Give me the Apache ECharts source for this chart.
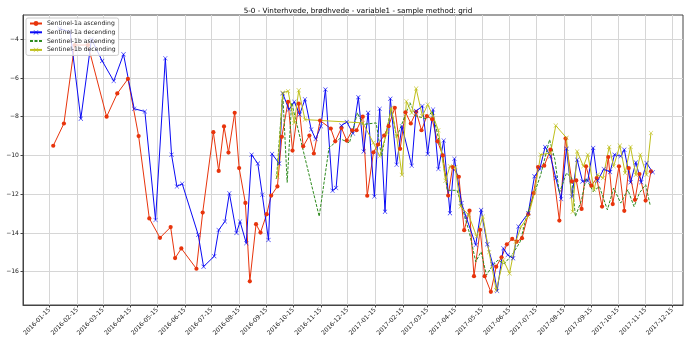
<!DOCTYPE html>
<html>
<head>
<meta charset="utf-8">
<script src="https://cdn.jsdelivr.net/npm/echarts@6/dist/echarts.min.js"></script>
<style>html,body{margin:0;padding:0;background:#fff}#c{width:690px;height:345px}</style>
</head>
<body>
<div id="c"></div>
<script>
const titleText = '5-0 - Vinterhvede, brødhvede - variable1 - sample method: grid';
const seriesNames = ['Sentinel-1a ascending', 'Sentinel-1a decending', 'Sentinel-1b ascending', 'Sentinel-1b decending'];

const xTickLabels = ['2016-01-15','2016-02-15','2016-03-15','2016-04-15','2016-05-15','2016-06-15','2016-07-15','2016-08-15','2016-09-15','2016-10-15','2016-11-15','2016-12-15','2017-01-15','2017-02-15','2017-03-15','2017-04-15','2017-05-15','2017-06-15','2017-07-15','2017-08-15','2017-09-15','2017-10-15','2017-11-15','2017-12-15'];
const yTickValues = [-16, -14, -12, -10, -8, -6, -4];

const s1aAscDates = ['2016-01-19','2016-01-31','2016-02-12','2016-02-27','2016-03-19','2016-03-31','2016-04-12','2016-04-24','2016-05-06','2016-05-18','2016-05-30','2016-06-04','2016-06-11','2016-06-28','2016-07-05','2016-07-17','2016-07-23','2016-07-29','2016-08-03','2016-08-10','2016-08-15','2016-08-22','2016-08-27','2016-09-03','2016-09-08','2016-09-15','2016-09-20','2016-09-27','2016-10-02','2016-10-09','2016-10-14','2016-10-21','2016-10-26','2016-11-02','2016-11-07','2016-11-14','2016-11-26','2016-12-01','2016-12-08','2016-12-14','2016-12-20','2016-12-25','2017-01-01','2017-01-06','2017-01-13','2017-01-18','2017-01-25','2017-01-30','2017-02-06','2017-02-12','2017-02-18','2017-02-24','2017-03-02','2017-03-08','2017-03-14','2017-03-20','2017-03-26','2017-04-01','2017-04-07','2017-04-12','2017-04-19','2017-04-25','2017-05-01','2017-05-06','2017-05-13','2017-05-18','2017-05-25','2017-05-31','2017-06-06','2017-06-12','2017-06-18','2017-06-23','2017-06-29','2017-07-06','2017-07-12','2017-07-17','2017-07-24','2017-07-31','2017-08-10','2017-08-17','2017-08-24','2017-08-29','2017-09-04','2017-09-09','2017-09-15','2017-09-21','2017-09-27','2017-10-04','2017-10-09','2017-10-16','2017-10-22','2017-10-27','2017-11-03','2017-11-08','2017-11-15','2017-11-21'];
const s1aAscValues = [-9.5,-8.35,-4.3,-4.3,-8.0,-6.8,-6.05,-9.0,-13.25,-14.25,-13.7,-15.3,-14.8,-15.85,-12.95,-8.8,-10.8,-8.5,-9.85,-7.8,-10.65,-12.45,-16.5,-13.55,-13.98,-13.03,-12.07,-11.6,-9.04,-7.23,-9.75,-7.33,-9.53,-8.97,-9.9,-8.2,-8.61,-9.27,-8.58,-9.23,-8.71,-8.7,-8.0,-12.08,-9.84,-9.44,-8.97,-8.49,-7.54,-9.66,-7.77,-8.35,-7.75,-8.7,-7.97,-8.13,-9.27,-10.0,-12.07,-10.6,-11.1,-13.86,-12.85,-16.23,-13.84,-16.23,-17.04,-15.74,-15.26,-14.59,-14.31,-14.45,-14.27,-13.03,-11.94,-10.6,-10.53,-9.7,-13.36,-9.13,-11.34,-11.29,-12.76,-10.56,-11.56,-11.17,-12.64,-10.08,-12.51,-10.56,-12.86,-10.65,-12.29,-10.96,-12.33,-10.82];

const s1aDescDates = ['2016-01-26','2016-02-07','2016-02-19','2016-03-02','2016-03-14','2016-03-27','2016-04-07','2016-04-19','2016-05-01','2016-05-13','2016-05-24','2016-05-31','2016-06-06','2016-06-12','2016-06-30','2016-07-06','2016-07-18','2016-07-23','2016-07-30','2016-08-04','2016-08-12','2016-08-16','2016-08-23','2016-08-29','2016-09-05','2016-09-10','2016-09-17','2016-09-21','2016-09-29','2016-10-03','2016-10-10','2016-10-16','2016-10-22','2016-10-28','2016-11-04','2016-11-09','2016-11-15','2016-11-20','2016-11-28','2016-12-02','2016-12-08','2016-12-14','2016-12-21','2016-12-27','2017-01-02','2017-01-07','2017-01-14','2017-01-20','2017-01-26','2017-02-01','2017-02-08','2017-02-14','2017-02-25','2017-03-02','2017-03-09','2017-03-15','2017-03-21','2017-03-27','2017-04-02','2017-04-09','2017-04-14','2017-04-22','2017-04-27','2017-05-08','2017-05-14','2017-05-21','2017-05-27','2017-06-01','2017-06-08','2017-06-13','2017-06-19','2017-06-25','2017-07-06','2017-07-13','2017-07-19','2017-07-25','2017-07-31','2017-08-06','2017-08-12','2017-08-18','2017-08-24','2017-08-30','2017-09-05','2017-09-11','2017-09-17','2017-09-22','2017-09-29','2017-10-06','2017-10-11','2017-10-18','2017-10-22','2017-10-29','2017-11-04','2017-11-10','2017-11-16','2017-11-23'];
const s1aDescValues = [-3.45,-3.62,-8.1,-4.0,-5.12,-6.16,-4.78,-7.59,-7.73,-13.33,-4.98,-9.96,-11.6,-11.46,-14.1,-15.74,-15.2,-13.85,-13.41,-11.95,-14.0,-13.41,-14.53,-9.96,-10.42,-12.03,-14.36,-9.92,-10.42,-6.8,-7.63,-7.23,-7.89,-7.1,-8.66,-9.15,-8.49,-6.59,-11.82,-11.68,-8.46,-8.27,-8.87,-6.99,-9.79,-7.8,-12.12,-7.59,-12.9,-7.07,-10.48,-8.49,-10.53,-7.71,-7.45,-9.92,-7.63,-10.7,-9.23,-12.98,-10.17,-12.46,-13.15,-14.62,-12.81,-14.59,-15.61,-17.0,-14.79,-15.14,-15.31,-13.67,-12.98,-11.08,-10.7,-9.56,-10.04,-11.17,-12.25,-9.66,-12.12,-10.22,-11.34,-11.3,-9.61,-11.3,-10.7,-10.86,-9.96,-10.04,-9.7,-11.39,-10.36,-11.39,-10.39,-10.87];

const s1bAscDates = ['2016-09-26','2016-10-03','2016-10-08','2016-10-13','2016-11-13','2016-11-24','2016-12-06','2016-12-17','2016-12-26','2017-01-01','2017-01-16','2017-01-22','2017-02-02','2017-02-08','2017-02-23','2017-03-02','2017-03-14','2017-03-20','2017-03-31','2017-04-06','2017-04-17','2017-04-23','2017-05-01','2017-05-08','2017-05-14','2017-05-20','2017-05-26','2017-06-02','2017-06-09','2017-06-19','2017-06-27','2017-07-04','2017-07-13','2017-07-20','2017-07-30','2017-08-05','2017-08-10','2017-08-18','2017-08-24','2017-08-28','2017-09-04','2017-09-09','2017-09-17','2017-09-24','2017-10-03','2017-10-10','2017-10-18','2017-10-26','2017-11-02','2017-11-08','2017-11-15','2017-11-20'];
const s1bAscValues = [-11.2,-6.76,-11.39,-7.28,-13.15,-9.61,-9.13,-9.35,-7.8,-8.4,-8.32,-10.04,-7.54,-9.09,-7.28,-7.97,-8.11,-7.71,-9.87,-11.8,-11.8,-12.72,-14.02,-15.49,-14.97,-16.18,-15.74,-15.4,-15.6,-15.05,-14.45,-13.15,-11.94,-11.0,-9.18,-10.22,-11.94,-10.91,-11.17,-13.15,-12.29,-11.17,-11.86,-11.6,-12.81,-11.68,-12.46,-11.77,-12.64,-11.94,-11.51,-12.55];

const s1bDescDates = ['2016-09-27','2016-10-03','2016-10-09','2016-10-16','2016-10-21','2016-10-28','2017-01-01','2017-01-13','2017-01-20','2017-01-28','2017-02-02','2017-02-08','2017-02-14','2017-02-19','2017-02-25','2017-03-02','2017-03-09','2017-03-15','2017-03-21','2017-03-27','2017-04-04','2017-04-09','2017-04-15','2017-04-21','2017-04-30','2017-05-09','2017-05-16','2017-05-23','2017-05-31','2017-06-08','2017-06-15','2017-06-22','2017-06-28','2017-07-06','2017-07-13','2017-07-20','2017-07-31','2017-08-06','2017-08-18','2017-08-25','2017-08-30','2017-09-06','2017-09-11','2017-09-18','2017-09-22','2017-09-28','2017-10-05','2017-10-10','2017-10-17','2017-10-23','2017-10-29','2017-11-04','2017-11-09','2017-11-16','2017-11-21'];
const s1bDescValues = [-11.1,-6.76,-6.68,-8.32,-6.64,-8.15,-8.32,-9.35,-10.04,-8.84,-7.54,-9.0,-11.0,-7.2,-7.8,-6.55,-7.97,-7.37,-7.97,-8.7,-11.3,-10.56,-10.6,-12.64,-13.07,-14.19,-13.15,-15.0,-16.95,-15.4,-16.09,-14.45,-13.67,-13.15,-11.94,-9.96,-9.87,-8.46,-9.09,-12.9,-9.79,-10.56,-9.96,-11.77,-11.0,-11.17,-9.56,-10.56,-9.49,-10.91,-9.56,-11.0,-9.96,-11.0,-8.84];

const xMin = '2015-12-16';
const xMax = '2017-12-27';
const yMin = -17.72;
const yMax = -2.75;

const toTime = s => Date.parse(s + 'T00:00:00Z');
const fmtDate = t => new Date(t).toISOString().slice(0, 10);
function pairs(d, v) { return d.map((x, i) => [toTime(x), v[i]]); }

const FONT = 'DejaVu Sans';
const crossPath = 'path://M0,0.7L0.7,0L5,4.3L9.3,0L10,0.7L5.7,5L10,9.3L9.3,10L5,5.7L0.7,10L0,9.3L4.3,5Z';
const colors = ['#e8340c', '#0a0af5', '#2e8b1e', '#bfbf1a'];

const chart = echarts.init(document.getElementById('c'), null, {renderer: 'canvas'});
chart.setOption({
  animation: false,
  backgroundColor: '#fff',
  title: {
    text: titleText,
    left: 353, top: 3, textAlign: 'center',
    textStyle: {fontFamily: FONT, fontSize: 7.2, fontWeight: 'normal', color: '#000'}
  },
  legend: {
    orient: 'vertical', left: 26, top: 18,
    itemWidth: 12, itemHeight: 6, itemGap: 1.8,
    padding: [2, 3, 2, 3],
    borderColor: '#cccccc', borderWidth: 1, borderRadius: 2,
    backgroundColor: 'rgba(255,255,255,0.8)',
    textStyle: {fontFamily: FONT, fontSize: 6.1, lineHeight: 7, color: '#222'},
    data: [
      {name: seriesNames[0]},
      {name: seriesNames[1]},
      {name: seriesNames[2], itemStyle: {opacity: 0}},
      {name: seriesNames[3]}
    ],
    z: 10
  },
  grid: {left: 23, right: 7, top: 15, bottom: 40, show: true, borderColor: '#444', borderWidth: 1},
  xAxis: {
    type: 'value', min: toTime(xMin), max: toTime(xMax),
    axisLine: {show: true, lineStyle: {color: '#444', width: 1}},
    axisTick: {show: true, length: 2.5, customValues: xTickLabels.map(toTime), lineStyle: {color: '#444'}},
    axisLabel: {
      customValues: xTickLabels.map(toTime), rotate: 45, fontFamily: FONT, fontSize: 6.1, color: '#222', margin: 4,
      formatter: v => fmtDate(v)
    },
    splitLine: {show: true, lineStyle: {color: '#d6d6d6', width: 1}}
  },
  yAxis: {
    type: 'value', min: yMin, max: yMax,
    axisLine: {show: true, lineStyle: {color: '#444', width: 1}},
    axisTick: {show: true, length: 2.5, customValues: yTickValues, lineStyle: {color: '#444'}},
    axisLabel: {
      customValues: yTickValues, fontFamily: FONT, fontSize: 6.1, color: '#222', margin: 4,
      formatter: v => String(v).replace('-', '\u2212')
    },
    splitLine: {show: true, lineStyle: {color: '#d6d6d6', width: 1}}
  },
  series: [
    {name: seriesNames[0], type: 'line', data: pairs(s1aAscDates, s1aAscValues),
     symbol: 'circle', symbolSize: 4.2, itemStyle: {color: colors[0]},
     lineStyle: {color: colors[0], width: 1}},
    {name: seriesNames[1], type: 'line', data: pairs(s1aDescDates, s1aDescValues),
     symbol: crossPath, symbolSize: 4.5, itemStyle: {color: colors[1]},
     lineStyle: {color: colors[1], width: 1}},
    {name: seriesNames[2], type: 'line', data: pairs(s1bAscDates, s1bAscValues),
     symbol: 'none', itemStyle: {color: colors[2]},
     lineStyle: {color: colors[2], width: 1, type: [3, 1.5]}},
    {name: seriesNames[3], type: 'line', data: pairs(s1bDescDates, s1bDescValues),
     symbol: crossPath, symbolSize: 4.5, itemStyle: {color: colors[3]},
     lineStyle: {color: colors[3], width: 1}}
  ]
});
</script>
</body>
</html>
